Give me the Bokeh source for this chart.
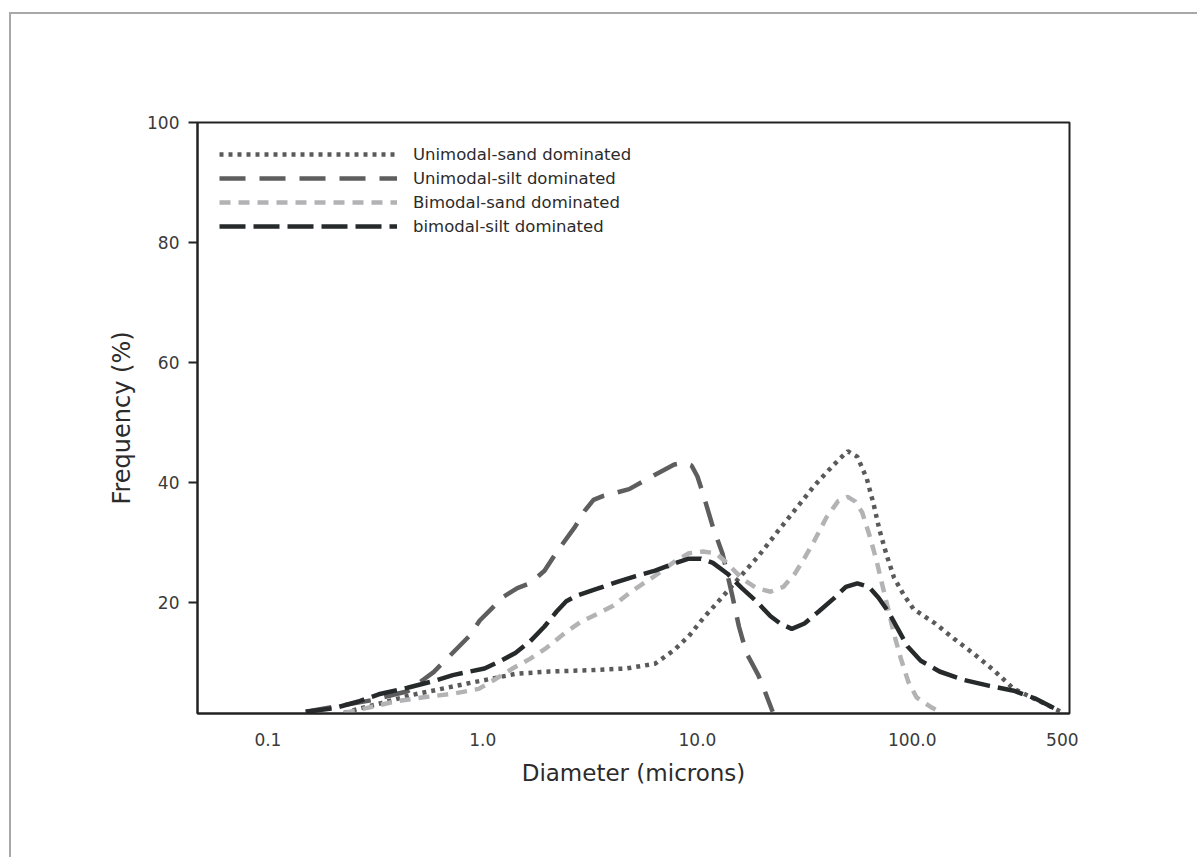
from bokeh.plotting import figure
from bokeh.models import Range1d, FixedTicker, Legend, LegendItem
from bokeh.embed import file_html
from bokeh.resources import INLINE

# ---- data ----
x_ticks = [0.1, 1.0, 10.0, 100.0, 500.0]
x_tick_labels = ["0.1", "1.0", "10.0", "100.0", "500"]
y_ticks = [20, 40, 60, 80, 100]

series_names = ["Unimodal-sand dominated", "Unimodal-silt dominated",
                "Bimodal-sand dominated", "bimodal-silt dominated"]

uni_sand_x = [0.226, 0.272, 0.335, 0.456, 0.622, 0.848, 1.10, 1.42, 2.04, 3.08,
              4.66, 6.35, 7.80, 9.12, 10.6, 13.1, 15.7, 19.2, 23.6, 29.0, 34.9,
              40.7, 46.1, 50.1, 55.5, 61.5, 66.2, 70.4, 75.7, 82.2, 91.2, 101.5,
              128, 156, 196, 240, 297, 374, 493]
uni_sand_y = [1.6, 2.4, 3.2, 4.5, 5.5, 6.5, 7.3, 8.1, 8.5, 8.7,
              9.0, 9.8, 12.1, 14.4, 17.3, 21.0, 24.2, 27.7, 31.8, 35.8, 39.4,
              42.0, 44.0, 45.2, 44.3, 40.6, 36.3, 32.1, 28.1, 24.2, 21.3, 18.9,
              16.5, 14.0, 11.3, 8.7, 5.6, 3.9, 1.8]

uni_silt_x = [0.150, 0.210, 0.302, 0.447, 0.591, 0.676, 0.866, 0.969, 1.255, 1.45,
              1.66, 1.94, 2.19, 2.69, 2.99, 3.28, 3.60, 3.99, 4.81, 6.35, 7.80,
              8.65, 9.40, 10.0, 10.6, 11.8, 13.1, 14.5, 15.6, 16.9, 19.2, 20.6, 22.4]
uni_silt_y = [1.8, 2.7, 3.7, 5.2, 8.4, 10.5, 14.4, 17.0, 21.0, 22.4,
              23.2, 25.3, 28.2, 32.6, 35.3, 37.1, 37.7, 38.1, 38.9, 41.3, 43.0,
              43.3, 42.8, 41.0, 38.2, 32.6, 28.1, 21.3, 16.0, 11.6, 7.9, 5.2, 1.8]

bi_sand_x = [0.226, 0.287, 0.391, 0.532, 0.726, 0.959, 1.155, 1.377, 1.659, 1.977,
             2.43, 2.87, 3.42, 4.07, 4.90, 5.73, 6.68, 7.80, 9.12, 10.6, 12.2,
             13.8, 16.1, 18.8, 21.9, 25.1, 28.4, 31.5, 34.9, 39.9, 45.2, 50.1,
             54.4, 58.5, 63.5, 68.3, 72.6, 77.3, 82.2, 88.3, 95.9, 104.7, 122, 138]
bi_sand_y = [1.6, 2.4, 3.5, 4.2, 4.8, 5.6, 7.3, 9.0, 10.6, 12.4,
             15.0, 16.8, 18.1, 19.5, 21.8, 23.4, 25.0, 26.8, 28.2, 28.5, 28.2,
             26.5, 24.0, 22.4, 21.8, 22.6, 24.8, 27.4, 30.2, 34.2, 36.9, 37.6,
             36.8, 35.0, 31.0, 26.9, 22.9, 18.9, 14.8, 10.8, 6.8, 4.2, 2.6, 1.6]

bi_silt_x = [0.150, 0.204, 0.264, 0.328, 0.447, 0.591, 0.726, 1.02, 1.217, 1.42,
             1.66, 1.94, 2.21, 2.45, 2.72, 3.42, 4.20, 5.16, 6.35, 7.80, 9.12,
             10.4, 11.8, 13.8, 16.1, 18.8, 21.9, 24.3, 27.5, 31.5, 36.7, 42.9,
             49.1, 55.5, 62.8, 69.7, 77.3, 85.7, 95.0, 109.6, 134, 174, 229,
             297, 374, 493]
bi_silt_y = [1.8, 2.4, 3.5, 4.7, 5.8, 6.9, 7.9, 9.0, 10.3, 11.6,
             13.5, 16.0, 18.5, 20.2, 21.1, 22.3, 23.4, 24.4, 25.3, 26.5, 27.3,
             27.3, 26.6, 24.8, 22.4, 20.2, 17.7, 16.5, 15.6, 16.5, 18.5, 20.6,
             22.6, 23.2, 22.6, 20.8, 18.5, 15.6, 12.7, 10.3, 8.5, 7.1, 6.1,
             5.3, 4.0, 1.8]

FONT = "DejaVu Sans"
TXT = "#2b2b2b"

p = figure(width=1188, height=845, x_axis_type="log",
           x_range=Range1d(0.047, 540), y_range=Range1d(1.5, 100),
           output_backend="svg", toolbar_location=None,
           min_border_left=186, min_border_right=130,
           min_border_top=108, min_border_bottom=146)
p.styles = {"border-top": "2px solid #a8a8a8", "border-left": "2px solid #a8a8a8",
            "margin-left": "9px", "margin-top": "12px"}

p.xgrid.visible = False
p.ygrid.visible = False
p.outline_line_color = "#222222"
p.outline_line_width = 2
p.outline_line_alpha = 1.0

# x axis
p.xaxis.ticker = FixedTicker(ticks=x_ticks)
p.xaxis.major_label_overrides = {t: l for t, l in zip(x_ticks, x_tick_labels)}
p.xaxis.major_tick_line_color = None
p.xaxis.minor_tick_line_color = None
p.xaxis.axis_line_color = "#222222"
p.xaxis.axis_line_width = 2
p.xaxis.major_label_standoff = 13
p.xaxis.axis_label = "Diameter (microns)"
p.xaxis.axis_label_standoff = 11

# y axis
p.yaxis.ticker = FixedTicker(ticks=y_ticks)
p.yaxis.minor_tick_line_color = None
p.yaxis.major_tick_in = 0
p.yaxis.major_tick_out = 9
p.yaxis.major_tick_line_width = 2
p.yaxis.major_tick_line_color = "#222222"
p.yaxis.axis_line_color = "#222222"
p.yaxis.axis_line_width = 2
p.yaxis.major_label_standoff = 9
p.yaxis.axis_label = "Frequency (%)"
p.yaxis.axis_label_standoff = 8

for ax in (p.xaxis[0], p.yaxis[0]):
    ax.major_label_text_font = FONT
    ax.major_label_text_font_size = "17px"
    ax.major_label_text_color = "#3a3a3a"
    ax.axis_label_text_font = FONT
    ax.axis_label_text_font_size = "23px"
    ax.axis_label_text_font_style = "normal"
    ax.axis_label_text_color = TXT
p.yaxis.axis_label_text_font_size = "24px"

r1 = p.line(uni_sand_x, uni_sand_y, line_color="#5a5a5a", line_width=4.5,
            line_dash="4 5")
r2 = p.line(uni_silt_x, uni_silt_y, line_color="#5e5e5e", line_width=4.5,
            line_dash="26 14")
r3 = p.line(bi_sand_x, bi_sand_y, line_color="#b3b3b6", line_width=4.5,
            line_dash="11 8")
r4 = p.line(bi_silt_x, bi_silt_y, line_color="#262a2a", line_width=4.5,
            line_dash="26 8")

legend = Legend(items=[LegendItem(label=n, renderers=[r])
                       for n, r in zip(series_names, [r1, r2, r3, r4])],
                location="top_left")
legend.border_line_color = None
legend.background_fill_alpha = 0
legend.glyph_width = 178
legend.glyph_height = 20
legend.spacing = 4
legend.margin = 22
legend.padding = 0
legend.label_standoff = 16
legend.label_text_font = FONT
legend.label_text_font_size = "16.5px"
legend.label_text_color = TXT
p.add_layout(legend)

open("out.html", "w").write(file_html(p, INLINE))
